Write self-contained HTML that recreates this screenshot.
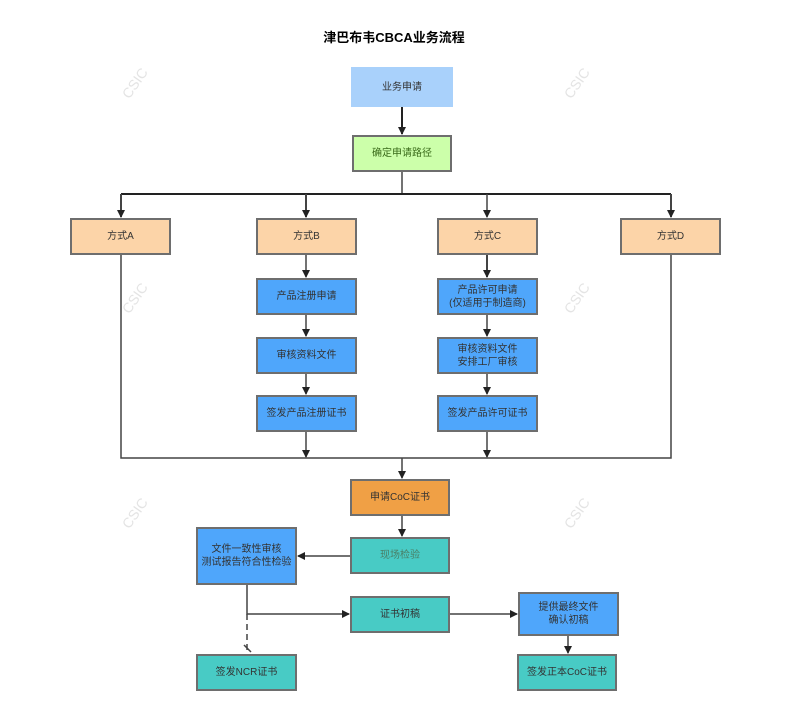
<!DOCTYPE html>
<html><head><meta charset="utf-8"><style>
body{margin:0;background:#fff;width:788px;height:709px;overflow:hidden;font-family:"Liberation Sans","Noto Sans CJK SC",sans-serif}
.b{position:absolute;box-sizing:border-box;border:2px solid #6e6e6e;display:flex;align-items:center;justify-content:center;text-align:center;font-size:10px;line-height:13px;color:#333}
.t{position:absolute;left:0;width:788px;top:27px;text-align:center;font-weight:bold;font-size:13px;color:#000}
.w{position:absolute;color:#e4e4e4;font-size:14px;transform:rotate(-55deg)}
</style></head><body>
<div class="t">津巴布韦CBCA业务流程</div>
<div class="w" style="left:118px;top:75px">CSIC</div>
<div class="w" style="left:560px;top:75px">CSIC</div>
<div class="w" style="left:118px;top:290px">CSIC</div>
<div class="w" style="left:560px;top:290px">CSIC</div>
<div class="w" style="left:118px;top:505px">CSIC</div>
<div class="w" style="left:560px;top:505px">CSIC</div>
<svg width="788" height="709" style="position:absolute;left:0;top:0">
<defs><marker id="a" markerWidth="8" markerHeight="8" refX="7" refY="4" orient="auto" markerUnits="userSpaceOnUse"><path d="M0,0 L8,4 L0,8 z" fill="#222"/></marker></defs>
<g stroke="#444" stroke-width="1.5" fill="none">
<line x1="402" y1="107" x2="402" y2="134" marker-end="url(#a)" stroke="#222" stroke-width="2"/>
<line x1="402" y1="172" x2="402" y2="194"/>
<line x1="121" y1="194" x2="671" y2="194" stroke="#222" stroke-width="2"/>
<line x1="121" y1="194" x2="121" y2="217" marker-end="url(#a)" stroke-width="2"/>
<line x1="306" y1="194" x2="306" y2="217" marker-end="url(#a)" stroke-width="2"/>
<line x1="487" y1="194" x2="487" y2="217" marker-end="url(#a)"/>
<line x1="671" y1="194" x2="671" y2="217" marker-end="url(#a)" stroke-width="2"/>
<line x1="306" y1="255" x2="306" y2="277" marker-end="url(#a)"/>
<line x1="487" y1="255" x2="487" y2="277" marker-end="url(#a)" stroke-width="2"/>
<line x1="306" y1="315" x2="306" y2="336" marker-end="url(#a)"/>
<line x1="487" y1="315" x2="487" y2="336" marker-end="url(#a)"/>
<line x1="306" y1="374" x2="306" y2="394" marker-end="url(#a)"/>
<line x1="487" y1="374" x2="487" y2="394" marker-end="url(#a)"/>
<line x1="306" y1="432" x2="306" y2="457" marker-end="url(#a)"/>
<line x1="487" y1="432" x2="487" y2="457" marker-end="url(#a)"/>
<polyline points="121,255 121,458 671,458 671,255"/>
<line x1="402" y1="458" x2="402" y2="478" marker-end="url(#a)"/>
<line x1="402" y1="516" x2="402" y2="536" marker-end="url(#a)"/>
<line x1="350" y1="556" x2="298" y2="556" marker-end="url(#a)"/>
<polyline points="247,585 247,614 349,614" marker-end="url(#a)"/>
<line x1="247" y1="614" x2="247" y2="650" stroke-dasharray="6,4"/>
<line x1="244" y1="645" x2="251" y2="652"/>
<line x1="450" y1="614" x2="517" y2="614" marker-end="url(#a)"/>
<line x1="568" y1="636" x2="568" y2="653" marker-end="url(#a)"/>
</g></svg>
<div class="b" style="left:351px;top:67px;width:102px;height:40px;background:#a9d1fb;border-color:#a9d1fb">业务申请</div>
<div class="b" style="left:352px;top:135px;width:100px;height:37px;background:#ccffaa;color:#3a6b1a">确定申请路径</div>
<div class="b" style="left:70px;top:218px;width:101px;height:37px;background:#fcd4a8">方式A</div>
<div class="b" style="left:256px;top:218px;width:101px;height:37px;background:#fcd4a8">方式B</div>
<div class="b" style="left:437px;top:218px;width:101px;height:37px;background:#fcd4a8">方式C</div>
<div class="b" style="left:620px;top:218px;width:101px;height:37px;background:#fcd4a8">方式D</div>
<div class="b" style="left:256px;top:278px;width:101px;height:37px;background:#4fa6fb">产品注册申请</div>
<div class="b" style="left:256px;top:337px;width:101px;height:37px;background:#4fa6fb">审核资料文件</div>
<div class="b" style="left:256px;top:395px;width:101px;height:37px;background:#4fa6fb">签发产品注册证书</div>
<div class="b" style="left:437px;top:278px;width:101px;height:37px;background:#4fa6fb">产品许可申请<br>(仅适用于制造商)</div>
<div class="b" style="left:437px;top:337px;width:101px;height:37px;background:#4fa6fb">审核资料文件<br>安排工厂审核</div>
<div class="b" style="left:437px;top:395px;width:101px;height:37px;background:#4fa6fb">签发产品许可证书</div>
<div class="b" style="left:350px;top:479px;width:100px;height:37px;background:#f0a045">申请CoC证书</div>
<div class="b" style="left:350px;top:537px;width:100px;height:37px;background:#48cbc5;color:#4a7f66">现场检验</div>
<div class="b" style="left:196px;top:527px;width:101px;height:58px;background:#4fa6fb">文件一致性审核<br>测试报告符合性检验</div>
<div class="b" style="left:350px;top:596px;width:100px;height:37px;background:#48cbc5">证书初稿</div>
<div class="b" style="left:518px;top:592px;width:101px;height:44px;background:#4fa6fb">提供最终文件<br>确认初稿</div>
<div class="b" style="left:196px;top:654px;width:101px;height:37px;background:#48cbc5">签发NCR证书</div>
<div class="b" style="left:517px;top:654px;width:100px;height:37px;background:#48cbc5">签发正本CoC证书</div>
</body></html>
